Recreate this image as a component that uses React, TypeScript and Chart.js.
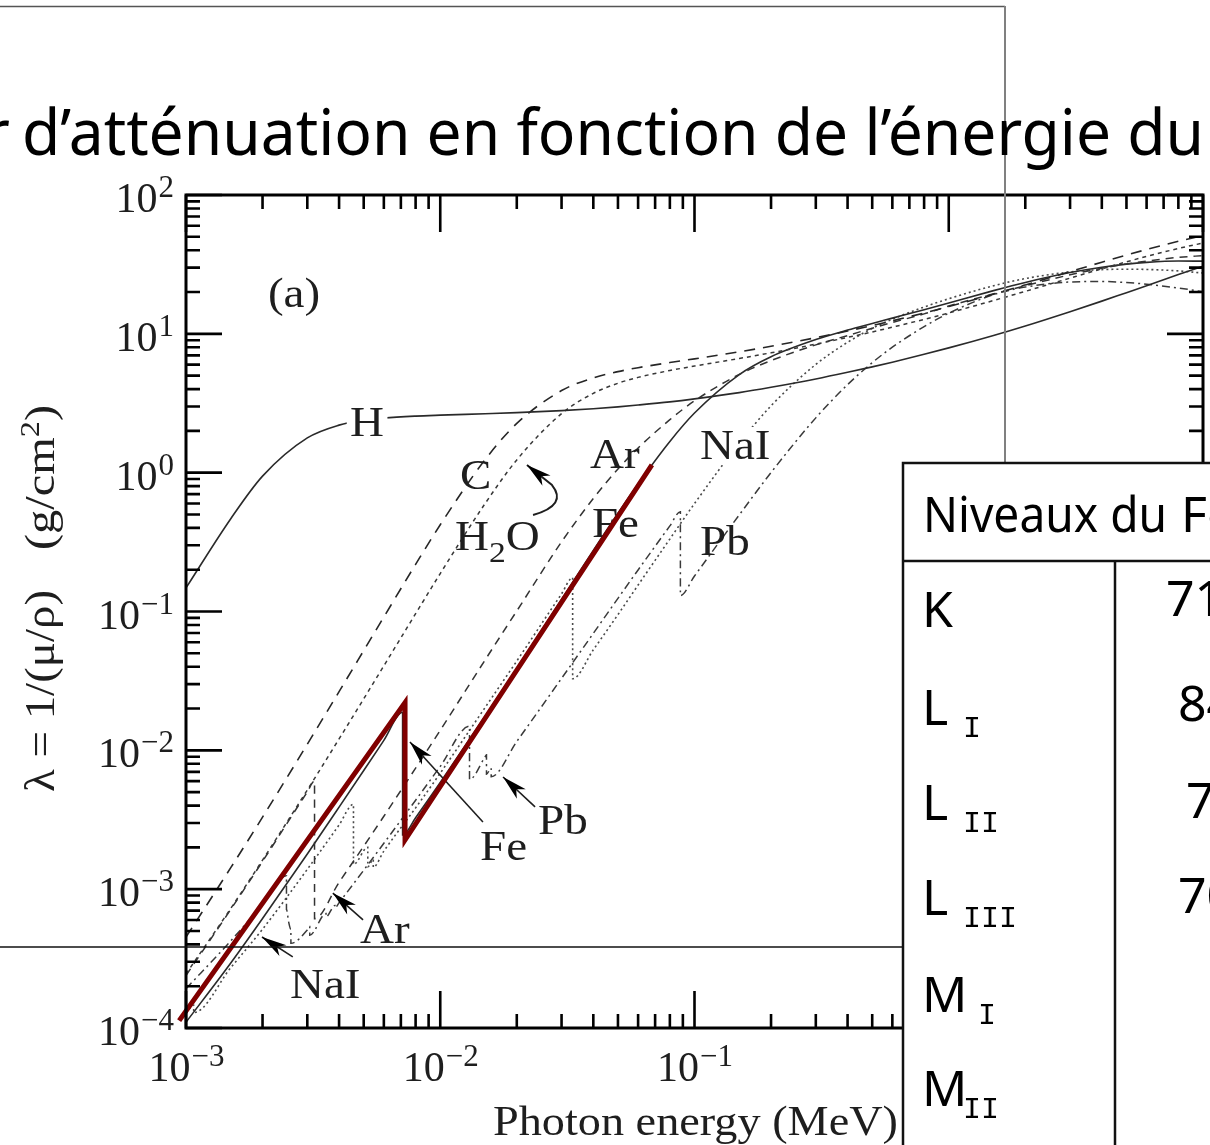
import React, { useEffect, useRef } from "react";
import { Chart, registerables } from "chart.js";

Chart.register(...registerables);

// ---- Photon energies (MeV) shared by the absorbers without edges in range ----
const energyGrid = [
  0.001, 0.0015, 0.002, 0.003, 0.004, 0.005, 0.006, 0.008, 0.01, 0.015, 0.02,
  0.03, 0.04, 0.05, 0.06, 0.08, 0.1, 0.15, 0.2, 0.3, 0.4, 0.5, 0.6, 0.8, 1,
  1.5, 2, 3, 4, 5, 6, 8, 10,
];

// ---- Attenuation length λ = 1/(μ/ρ) in g/cm² ----
const lambdaH = [
  0.148, 0.466, 0.944, 1.78, 2.2, 2.385, 2.474, 2.555, 2.595, 2.657, 2.706,
  2.8, 2.89, 2.98, 3.07, 3.235, 3.4, 3.77, 4.12, 4.73, 5.28, 5.78, 6.25, 7.12,
  7.92, 9.74, 11.4, 14.45, 17.2, 19.8, 22.2, 26.7, 30.7,
];
const lambdaC = [
  4.52e-4, 1.428e-3, 3.3e-3, 0.01107, 0.02647, 0.0523, 0.0913, 0.2185, 0.4214,
  1.239, 2.262, 3.903, 4.817, 5.345, 5.705, 6.21, 6.605, 7.42, 8.14, 9.38,
  10.48, 11.47, 12.41, 14.13, 15.72, 19.31, 22.5, 28.07, 32.8, 36.9, 40.5,
  46.4, 51.0,
];
const lambdaH2O = [
  2.452e-4, 7.27e-4, 1.62e-3, 5.18e-3, 0.01208, 0.02349, 0.0406, 0.0964,
  0.1877, 0.598, 1.235, 2.662, 3.727, 4.407, 4.857, 5.444, 5.858, 6.645, 7.3,
  8.43, 9.425, 10.32, 11.17, 12.71, 14.14, 17.38, 20.23, 25.2, 29.4, 33.0,
  36.1, 41.2, 45.1,
];

// Argon (K edge 3.2 keV)
const energyAr = [
  0.001, 0.0015, 0.002, 0.003, 0.0032029, 0.0032029, 0.004, 0.005, 0.006,
  0.008, 0.01, 0.015, 0.02, 0.03, 0.04, 0.05, 0.06, 0.08, 0.1, 0.15, 0.2, 0.3,
  0.4, 0.5, 0.6, 0.8, 1, 1.5, 2, 3, 4, 5, 6, 8, 10,
];
const lambdaAr = [
  2.39e-4, 7.15e-4, 1.586e-3, 5.02e-3, 6.006e-3, 6.135e-4, 1.12e-3, 2.038e-3,
  3.352e-3, 7.446e-3, 0.01394, 0.04468, 0.1009, 0.3173, 0.652, 1.064, 1.505,
  2.408, 3.29, 5.1, 6.414, 8.326, 9.718, 10.98, 12.08, 13.92, 15.85, 19.41,
  22.2, 26.62, 29.64, 31.86, 33.42, 35.54, 36.59,
];

// Iron (K edge 7.112 keV)
const energyFe = [
  0.001, 0.0015, 0.002, 0.003, 0.004, 0.005, 0.006, 0.007112, 0.007112, 0.008,
  0.01, 0.015, 0.02, 0.03, 0.04, 0.05, 0.06, 0.08, 0.1, 0.15, 0.2, 0.3, 0.4,
  0.5, 0.6, 0.8, 1, 1.5, 2, 3, 4, 5, 6, 8, 10,
];
const lambdaFe = [
  1.1e-4, 2.94e-4, 6.15e-4, 1.793e-3, 3.896e-3, 7.153e-3, 0.01179, 0.0188,
  2.453e-3, 3.272e-3, 5.862e-3, 0.01752, 0.03894, 0.1223, 0.2756, 0.5107,
  0.8299, 1.68, 2.69, 5.092, 6.849, 9.099, 10.64, 11.88, 12.98, 14.93, 16.68,
  20.48, 23.45, 27.62, 30.19, 31.79, 32.71, 33.43, 33.4,
];

// Sodium iodide (Na K, I L and I K edges)
const energyNaI = [
  0.001, 0.0010721, 0.0010721, 0.0015, 0.002, 0.003, 0.004, 0.004557,
  0.004557, 0.005188, 0.005188, 0.005452, 0.005452, 0.006, 0.008, 0.01,
  0.015, 0.02, 0.03, 0.03317, 0.03317, 0.04, 0.05, 0.06, 0.08, 0.1, 0.15, 0.2,
  0.3, 0.4, 0.5, 0.6, 0.8, 1, 1.5, 2, 3, 4, 5, 6, 8, 10,
];
const lambdaNaI = [
  1.28e-4, 1.46e-4, 1.29e-4, 2.72e-4, 5.15e-4, 1.39e-3, 2.9e-3, 4.08e-3,
  1.51e-3, 2.0e-3, 1.45e-3, 1.64e-3, 1.44e-3, 1.88e-3, 3.85e-3, 6.85e-3,
  0.0203, 0.044, 0.134, 0.175, 0.0328, 0.053, 0.095, 0.155, 0.333, 0.599,
  1.63, 3.03, 6.02, 8.69, 10.94, 12.76, 15.6, 17.9, 22.2, 25, 27.9, 29, 29.2,
  29.1, 28.4, 27.4,
];

// Lead (M, L and K edges)
const energyPb = [
  0.001, 0.0015, 0.002, 0.002484, 0.002484, 0.0025343, 0.0025856, 0.0025856,
  0.003, 0.0030664, 0.0030664, 0.0035542, 0.0035542, 0.0038507, 0.0038507,
  0.004, 0.005, 0.006, 0.008, 0.01, 0.013035, 0.013035, 0.015, 0.0152, 0.0152,
  0.01586, 0.01586, 0.02, 0.03, 0.04, 0.05, 0.06, 0.08, 0.088, 0.088, 0.1,
  0.15, 0.2, 0.3, 0.4, 0.5, 0.6, 0.8, 1, 1.5, 2, 3, 4, 5, 6, 8, 10,
];
const lambdaPb = [
  1.92e-4, 4.24e-4, 7.78e-4, 1.249e-3, 7.16e-4, 5.79e-4, 5.14e-4, 4.07e-4,
  5.09e-4, 5.39e-4, 4.66e-4, 6.68e-4, 6.31e-4, 7.63e-4, 7.31e-4, 7.99e-4,
  1.369e-3, 2.14e-3, 4.37e-3, 7.66e-3, 0.01492, 6.17e-3, 8.96e-3, 9.28e-3,
  6.73e-3, 7.44e-3, 6.46e-3, 0.01158, 0.03298, 0.0696, 0.1244, 0.1992, 0.4134,
  0.5236, 0.1302, 0.1802, 0.4965, 1.0015, 2.481, 4.305, 6.196, 8.013, 11.27,
  14.08, 19.15, 21.71, 23.62, 23.83, 23.41, 22.77, 21.39, 20.11,
];

// Highlighted iron sketch: rise, K-edge drop, rise again
const sketchEnergy = [0.00094, 0.00727, 0.00727, 0.068];
const sketchLambda = [1.13e-4, 0.0221, 0.00226, 1.136];

// Axis decades
const xTickPowers = [-3, -2, -1, 0, 1];
const yTickPowers = [2, 1, 0, -1, -2, -3, -4];

// Curve labels placed in data space (energy, λ); "|" marks a subscript
const labelTexts = ["(a)", "H", "C", "H|2|O", "Ar", "Fe", "NaI", "Pb", "Fe", "Pb", "Ar", "NaI"];
const labelEnergy = [0.0021, 0.00442, 0.01196, 0.01143, 0.0388, 0.0395, 0.1051, 0.1051, 0.01433, 0.02423, 0.004835, 0.002565];
const labelLambda = [15.6, 1.84, 0.762, 0.277, 1.08, 0.344, 1.254, 0.255, 1.62e-3, 2.5e-3, 4.09e-4, 1.64e-4];
const labelBackdrop = [false, true, false, false, false, false, true, false, false, false, false, false];

// Pointer arrows (tail -> tip) in data space
const arrowFromE = [0.01472, 0.0236, 0.00497, 0.00263];
const arrowFromL = [3.05e-3, 3.91e-3, 6.0e-4, 3.25e-4];
const arrowToE = [0.0076, 0.01766, 0.00378, 0.00199];
const arrowToL = [0.01148, 6.43e-3, 9.37e-4, 4.52e-4];
// Curled arrow from the H2O label: start, control, bend, tip
const hookE = [0.02317, 0.0318, 0.02751, 0.02193];
const hookL = [0.495, 0.585, 0.815, 1.135];

// Table of iron levels (eV)
const levelNames = ["K", "L", "L", "L", "M", "M"];
const levelSubs = ["", "I", "II", "III", "I", "II"];
const levelValues = ["7112", "846", "721", "708", "", ""];

const SERIF = '"Liberation Serif", "Times New Roman", serif';
const HAND = '"Comic Sans MS", "Noto Sans", sans-serif';
const INK = "#1e1e1e";
const LABEL_STRETCH = 1.12;

const pts = (xs: number[], ys: number[]) => xs.map((x, i) => ({ x, y: ys[i] }));

function drawLabel(ctx: CanvasRenderingContext2D, spec: string, x: number, y: number, backdrop: boolean) {
  const parts = spec.split("|");
  ctx.save();
  ctx.translate(x, y);
  ctx.scale(LABEL_STRETCH, 1);
  const segs: { p: string; sub: boolean; cx: number }[] = [];
  let cx = 0;
  parts.forEach((p, k) => {
    const sub = k % 2 === 1;
    ctx.font = `${sub ? 30 : 42}px ${SERIF}`;
    segs.push({ p, sub, cx });
    cx += ctx.measureText(p).width;
  });
  if (backdrop) {
    ctx.fillStyle = "#fff";
    ctx.fillRect(-3, -32, cx + 6, 38);
  }
  ctx.fillStyle = INK;
  segs.forEach((s) => {
    ctx.font = `${s.sub ? 30 : 42}px ${SERIF}`;
    ctx.fillText(s.p, s.cx, s.sub ? 12 : 0);
  });
  ctx.restore();
}

function arrowHead(ctx: CanvasRenderingContext2D, x1: number, y1: number, x2: number, y2: number) {
  const a = Math.atan2(y2 - y1, x2 - x1);
  const len = 25;
  const hw = 6.5;
  const bx = x2 - len * Math.cos(a);
  const by = y2 - len * Math.sin(a);
  const mx = x2 - len * 0.72 * Math.cos(a);
  const my = y2 - len * 0.72 * Math.sin(a);
  ctx.beginPath();
  ctx.moveTo(x2, y2);
  ctx.lineTo(bx + hw * Math.sin(a), by - hw * Math.cos(a));
  ctx.lineTo(mx, my);
  ctx.lineTo(bx - hw * Math.sin(a), by + hw * Math.cos(a));
  ctx.closePath();
  ctx.fill();
}

function drawPow(ctx: CanvasRenderingContext2D, p: number, x: number, y: number, align: "center" | "right") {
  const sup = p < 0 ? "\u2212" + Math.abs(p) : String(p);
  ctx.font = `42px ${SERIF}`;
  const wb = ctx.measureText("10").width;
  ctx.font = `31px ${SERIF}`;
  const ws = ctx.measureText(sup).width;
  const x0 = align === "center" ? x - (wb + ws) / 2 : x - (wb + ws);
  ctx.font = `42px ${SERIF}`;
  ctx.fillText("10", x0, y);
  ctx.font = `31px ${SERIF}`;
  ctx.fillText(sup, x0 + wb + 1, y - 15);
}

function drawAnnotations(chart: any) {
  const ctx: CanvasRenderingContext2D = chart.ctx;
  const xs = chart.scales.x;
  const ys = chart.scales.y;
  ctx.save();
  ctx.textAlign = "left";
  ctx.textBaseline = "alphabetic";
  labelTexts.forEach((t, i) => {
    drawLabel(ctx, t, xs.getPixelForValue(labelEnergy[i]), ys.getPixelForValue(labelLambda[i]), labelBackdrop[i]);
  });
  ctx.strokeStyle = INK;
  ctx.fillStyle = "#000";
  ctx.lineWidth = 1.6;
  arrowFromE.forEach((_, i) => {
    const x1 = xs.getPixelForValue(arrowFromE[i]);
    const y1 = ys.getPixelForValue(arrowFromL[i]);
    const x2 = xs.getPixelForValue(arrowToE[i]);
    const y2 = ys.getPixelForValue(arrowToL[i]);
    ctx.beginPath();
    ctx.moveTo(x1, y1);
    ctx.lineTo(x2, y2);
    ctx.stroke();
    arrowHead(ctx, x1, y1, x2, y2);
  });
  const hx = hookE.map((e) => xs.getPixelForValue(e));
  const hy = hookL.map((l) => ys.getPixelForValue(l));
  ctx.lineWidth = 2;
  ctx.beginPath();
  ctx.moveTo(hx[0], hy[0]);
  ctx.quadraticCurveTo(hx[1], hy[1], hx[2], hy[2]);
  ctx.lineTo(hx[3], hy[3]);
  ctx.stroke();
  arrowHead(ctx, hx[2], hy[2], hx[3], hy[3]);
  ctx.restore();
}

function drawFrame(chart: any) {
  const ctx: CanvasRenderingContext2D = chart.ctx;
  const xs = chart.scales.x;
  const ys = chart.scales.y;
  const { left, right, top, bottom } = chart.chartArea;
  ctx.save();
  ctx.strokeStyle = "#000";
  ctx.lineWidth = 3;
  ctx.strokeRect(left, top, right - left, bottom - top);
  ctx.lineWidth = 2.6;
  ctx.beginPath();
  for (const d of xTickPowers) {
    for (let m = 1; m <= 9; m++) {
      const v = m * Math.pow(10, d);
      if (v > 10.001) break;
      const p = xs.getPixelForValue(v);
      const len = m === 1 ? 37 : 14;
      ctx.moveTo(p, bottom);
      ctx.lineTo(p, bottom - len);
      ctx.moveTo(p, top);
      ctx.lineTo(p, top + len);
    }
  }
  for (const d of yTickPowers) {
    for (let m = 1; m <= 9; m++) {
      const v = m * Math.pow(10, d);
      if (v > 100.01) break;
      const p = ys.getPixelForValue(v);
      const len = m === 1 ? 36 : 14;
      ctx.moveTo(left, p);
      ctx.lineTo(left + len, p);
      ctx.moveTo(right, p);
      ctx.lineTo(right - len, p);
    }
  }
  ctx.stroke();

  ctx.fillStyle = INK;
  ctx.textBaseline = "alphabetic";
  ctx.textAlign = "left";
  xTickPowers.forEach((p) => drawPow(ctx, p, xs.getPixelForValue(Math.pow(10, p)), bottom + 53, "center"));
  yTickPowers.forEach((p) => drawPow(ctx, p, left - 13, ys.getPixelForValue(Math.pow(10, p)) + 17, "right"));

  // x-axis title
  ctx.font = `42px ${SERIF}`;
  const xt = "Photon energy (MeV)";
  const wx = ctx.measureText(xt).width;
  ctx.save();
  ctx.translate(493, bottom + 107);
  ctx.scale(405 / wx, 1);
  ctx.fillText(xt, 0, 0);
  ctx.restore();

  // y-axis title, reading upwards
  ctx.save();
  ctx.translate(54, 792);
  ctx.rotate(-Math.PI / 2);
  ctx.font = `42px ${SERIF}`;
  const p1 = "\u03bb = 1/(\u03bc/\u03c1)";
  const w1 = ctx.measureText(p1).width;
  ctx.save();
  ctx.scale(202 / w1, 1);
  ctx.fillText(p1, 0, 0);
  ctx.restore();
  const wa = ctx.measureText("(g/cm").width;
  const wc = ctx.measureText(")").width;
  ctx.font = `28px ${SERIF}`;
  const ws = ctx.measureText("2").width;
  ctx.translate(242, 0);
  ctx.scale(145 / (wa + ws + wc), 1);
  ctx.font = `42px ${SERIF}`;
  ctx.fillText("(g/cm", 0, 0);
  ctx.fillText(")", wa + ws, 0);
  ctx.font = `28px ${SERIF}`;
  ctx.fillText("2", wa, -15);
  ctx.restore();
  ctx.restore();
}

export default function App() {
  const canvasRef = useRef<HTMLCanvasElement>(null);

  useEffect(() => {
    const canvas = canvasRef.current;
    if (!canvas) return;
    const decor = {
      id: "figureDecor",
      beforeDatasetDraw(chart: any, args: any) {
        if (args.index === 0) drawAnnotations(chart);
      },
      afterDraw(chart: any) {
        drawFrame(chart);
      },
    };
    const curve = (label: string, data: any[], color: string, width: number, dash: number[]) => ({
      label,
      data,
      borderColor: color,
      borderWidth: width,
      borderDash: dash,
      pointRadius: 0,
      cubicInterpolationMode: "monotone",
      fill: false,
    });
    const chart = new Chart(canvas, {
      type: "line",
      data: {
        datasets: [
          {
            label: "Fe (sketch)",
            data: pts(sketchEnergy, sketchLambda),
            borderColor: "#800000",
            borderWidth: 5,
            pointRadius: 0,
            tension: 0,
            clip: false,
            borderJoinStyle: "miter",
          } as any,
          curve("H", pts(energyGrid, lambdaH), "#2a2a2a", 1.6, []),
          curve("C", pts(energyGrid, lambdaC), "#262626", 1.6, [11, 8]),
          curve("H2O", pts(energyGrid, lambdaH2O), "#383838", 1.5, [4, 4]),
          curve("Ar", pts(energyAr, lambdaAr), "#333", 1.5, [8, 6]),
          curve("Fe", pts(energyFe, lambdaFe), "#2a2a2a", 1.6, []),
          curve("NaI", pts(energyNaI, lambdaNaI), "#4a4a4a", 1.6, [2, 3]),
          curve("Pb", pts(energyPb, lambdaPb), "#3a3a3a", 1.5, [8, 4, 2, 4]),
        ] as any,
      },
      options: {
        responsive: false,
        animation: false,
        devicePixelRatio: 1,
        events: [],
        layout: { padding: { left: 186, top: 195, right: 7, bottom: 117 } },
        plugins: { legend: { display: false }, tooltip: { enabled: false } },
        scales: {
          x: { type: "logarithmic", min: 1e-3, max: 10, display: false },
          y: { type: "logarithmic", min: 1e-4, max: 100, display: false },
        },
      },
      plugins: [decor],
    });
    return () => chart.destroy();
  }, []);

  const rowBase = [627, 725, 820, 915, 1012, 1106];
  const subX = [0, 963, 963, 963, 978, 963];
  const valueX = [1166, 1178, 1186, 1178, 1178, 1178];
  const valueBase = [616, 721, 818, 913, 1010, 1104];

  return (
    <div style={{ position: "absolute", left: 0, top: 0, width: 1210, height: 1145, overflow: "hidden", background: "#fff" }}>
      <canvas ref={canvasRef} width={1210} height={1145} style={{ display: "block" }} />
      <svg width={1210} height={1145} style={{ position: "absolute", left: 0, top: 0 }}>
        <line x1={0} y1={6.5} x2={1005} y2={6.5} stroke="#555" strokeWidth={1.5} />
        <line x1={1005} y1={6} x2={1005} y2={463} stroke="#808080" strokeWidth={2} />
        <line x1={0} y1={947} x2={903} y2={947} stroke="#111" strokeWidth={1.5} />
        <text x={10} y={155} textAnchor="end" fontFamily={HAND} fontSize={64} fill="#000">Longueur</text>
        <text x={22} y={155} fontFamily={HAND} fontSize={64} fill="#000" textLength={1182} lengthAdjust="spacingAndGlyphs">
          d’atténuation en fonction de l’énergie du
        </text>
        <rect x={903} y={463} width={330} height={700} fill="#fff" stroke="#111" strokeWidth={2.5} />
        <line x1={903} y1={561} x2={1212} y2={561} stroke="#111" strokeWidth={2.5} />
        <line x1={1115} y1={561} x2={1115} y2={1147} stroke="#111" strokeWidth={2.5} />
        <text x={923} y={532} fontFamily={HAND} fontSize={50} fill="#000" textLength={244} lengthAdjust="spacingAndGlyphs">Niveaux du</text>
        <text x={1181} y={532} fontFamily={HAND} fontSize={50} fill="#000">Fer</text>
        {levelNames.map((n, i) => (
          <g key={i}>
            <text x={922} y={rowBase[i]} fontFamily={HAND} fontSize={50} fill="#000">{n}</text>
            {levelSubs[i] && (
              <text x={subX[i]} y={rowBase[i] + 12} fontFamily='"Liberation Mono", "Courier New", monospace' fontSize={30} fill="#000">
                {levelSubs[i]}
              </text>
            )}
            {levelValues[i] && (
              <text x={valueX[i]} y={valueBase[i]} fontFamily={HAND} fontSize={50} fill="#000">{levelValues[i]}</text>
            )}
          </g>
        ))}
      </svg>
    </div>
  );
}
